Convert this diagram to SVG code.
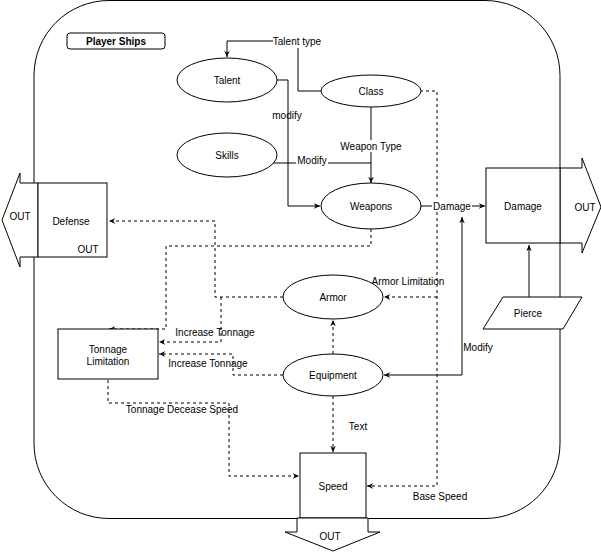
<svg xmlns="http://www.w3.org/2000/svg" width="601" height="552" viewBox="0 0 601 552">
<style>
text{font-family:"Liberation Sans",Arial,sans-serif;font-size:10px;fill:#000;text-anchor:middle;dominant-baseline:central}
.s{fill:#fff;stroke:#000;stroke-width:1}
.c{fill:none;stroke:#000;stroke-width:1}
.d{fill:none;stroke:#000;stroke-width:1;stroke-dasharray:3 3}
.bg{fill:#fff}
</style>
<defs>
<marker id="a" viewBox="0 0 10 10" refX="9" refY="5" markerWidth="7" markerHeight="7" orient="auto"><path d="M0,1 L9,5 L0,9 L3,5 Z" fill="#000"/></marker>
<marker id="b" viewBox="0 0 10 10" refX="1" refY="5" markerWidth="7" markerHeight="7" orient="auto"><path d="M10,1 L1,5 L10,9 L7,5 Z" fill="#000"/></marker>
</defs>
<g id="frame"><rect x="34" y="0.5" width="526" height="518" rx="75" class="s"/></g>
<g id="title"><rect x="67" y="33" width="98" height="16" rx="3" class="s"/><text x="116" y="41" font-weight="bold">Player Ships</text></g>
<g id="connectors">
<polyline class="c" points="321,91 298,91 298,48"/>
<polyline class="c" points="273,41 227,41 227,57" marker-end="url(#a)"/>
<polyline class="c" points="277,80 288,80 288,206 320,206" marker-end="url(#a)"/>
<polyline class="c" points="273,163 371,163"/>
<polyline class="c" points="371,107 371,183" marker-end="url(#a)"/>
<polyline class="c" points="421,206 485,206" marker-end="url(#a)"/>
<polyline class="c" points="529,297 529,245" marker-end="url(#a)"/>
<polyline class="c" points="384,375 462,375 462,217" marker-start="url(#b)" marker-end="url(#a)"/>
<polyline class="d" points="420,91 437,91 437,486 367,486" marker-end="url(#a)"/>
<polyline class="d" points="437,297 384,297" marker-end="url(#a)"/>
<polyline class="d" points="333,396 333,452" marker-end="url(#a)"/>
<polyline class="d" points="333,354 333,320" marker-end="url(#a)"/>
<polyline class="d" points="283,297 215,297 215,221 109,221" marker-end="url(#a)"/>
<polyline class="d" points="221,297 221,342 159,342" marker-end="url(#a)"/>
<polyline class="d" points="283,375 233,375 233,354 159,354" marker-end="url(#a)"/>
<polyline class="d" points="371,229 371,246 166,246 166,329 109,329" marker-end="url(#a)"/>
<polyline class="d" points="108,380 108,403 229,403 229,476 299,476" marker-end="url(#a)"/>
</g>
<g id="labels">
<rect x="273" y="35" width="48" height="12" class="bg"/><text x="297" y="41">Talent type</text>
<text x="287" y="115">modify</text>
<rect x="296" y="154" width="32" height="12" class="bg"/><text x="312" y="160">Modify</text>
<rect x="340" y="140" width="62" height="12" class="bg"/><text x="371" y="146">Weapon Type</text>
<rect x="432" y="200" width="40" height="12" class="bg"/><text x="452" y="206">Damage</text>
<text x="408" y="281">Armor Limitation</text>
<text x="478" y="347">Modify</text>
<text x="215" y="332">Increase Tonnage</text>
<text x="208" y="363">Increase Tonnage</text>
<text x="182" y="409">Tonnage Decease Speed</text>
<text x="358" y="426">Text</text>
<text x="440" y="496">Base Speed</text>
</g>
<g id="talent"><ellipse cx="227" cy="80" rx="50" ry="22" class="s"/><text x="227" y="80">Talent</text></g>
<g id="skills"><ellipse cx="227" cy="155" rx="50" ry="22" class="s"/><text x="227" y="155">Skills</text></g>
<g id="class"><ellipse cx="371" cy="91" rx="50" ry="16" class="s"/><text x="371" y="91">Class</text></g>
<g id="weapons"><ellipse cx="371" cy="206" rx="50" ry="23" class="s"/><text x="371" y="206">Weapons</text></g>
<g id="armor"><ellipse cx="333" cy="297" rx="50" ry="22" class="s"/><text x="333" y="297">Armor</text></g>
<g id="equipment"><ellipse cx="333" cy="375" rx="50" ry="21" class="s"/><text x="333" y="375">Equipment</text></g>
<g id="tonnage"><rect x="58" y="329" width="100" height="50" class="s"/><text x="108" y="349">Tonnage</text><text x="108" y="361">Limitation</text></g>
<g id="speed"><rect x="300" y="453" width="66" height="65" class="s"/><text x="333" y="486">Speed</text>
<polygon class="s" points="297,518 297,532 285,532 333,551 380,532 368,532 368,518"/><text x="330" y="536">OUT</text></g>
<g id="defense"><polygon class="s" points="38,183 20,183 20,173 2,220 20,267 20,257 38,257"/><rect x="38" y="183" width="69" height="74" class="s" stroke-width="1.5"/><text x="20" y="216">OUT</text><text x="71" y="221">Defense</text><text x="88" y="249">OUT</text></g>
<g id="damage"><polygon class="s" points="560,168 582,168 582,158 601,207 582,253 582,243 560,243"/><rect x="486" y="168" width="74" height="75" class="s"/><text x="523" y="206">Damage</text><text x="585" y="207">OUT</text></g>
<g id="pierce"><polygon class="s" points="503,297 582,297 563,329 483,329"/><text x="528" y="313">Pierce</text></g>
</svg>
